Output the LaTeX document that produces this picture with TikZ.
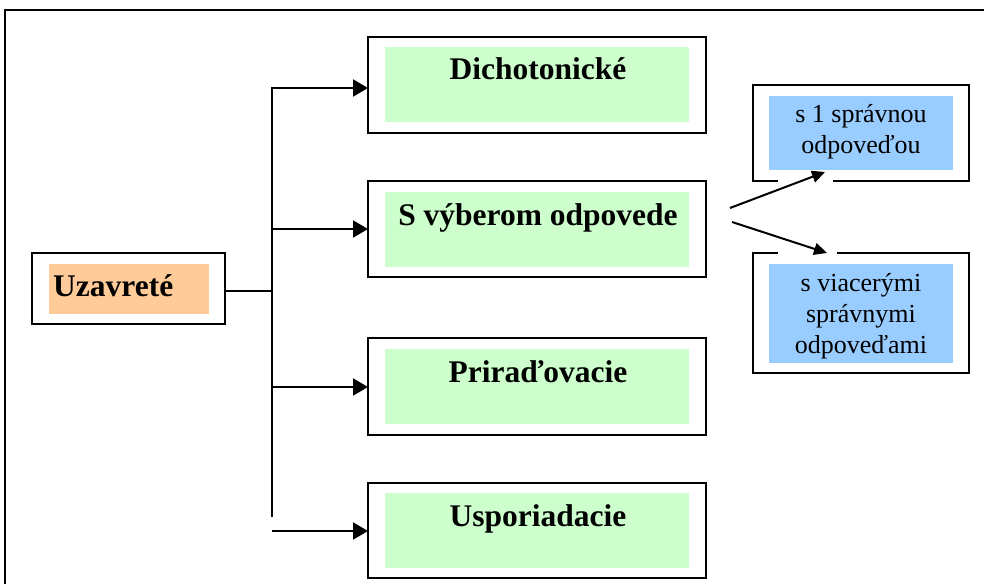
\documentclass[tikz,border=0pt]{standalone}
\usepackage{fontspec}
\setmainfont{Liberation Serif}
\usetikzlibrary{arrows.meta}
\definecolor{lgreen}{HTML}{CCFFCC}
\definecolor{lorange}{HTML}{FFCC99}
\definecolor{lblue}{HTML}{99CCFF}
\tikzset{
  outerbox/.style={draw=black, line width=2.5pt, fill=white},
  conn/.style={draw=black, line width=2pt},
  bigarrow/.style={conn, -{Triangle[length=15pt,width=17pt]}},
  smallarrow/.style={conn, -{Triangle[length=13pt,width=12pt]}},
  bigtext/.style={inner sep=0pt, font=\fontsize{31.5}{36}\selectfont\bfseries},
  smalltext/.style={inner sep=0pt, align=center, font=\fontsize{26}{31}\selectfont},
}
\begin{document}
\begin{tikzpicture}[x=1pt,y=-1pt]
\useasboundingbox (0,0) rectangle (984,583);
% outer frame
\draw[line width=2pt] (5,590) -- (5,10.5) -- (990,10.5);
% left box
\draw[outerbox] (32,253) rectangle (225,324);
\fill[lorange] (49,264) rectangle (209,314);
\node[bigtext, anchor=base west] (uz) at (53,296) {Uzavreté};
\coordinate (uzE) at (225,291);
% middle boxes
\draw[outerbox] (368,37) rectangle (706,133);
\fill[lgreen] (385,47) rectangle (689,122);
\node[bigtext, anchor=base] (dich) at (538,80) {Dichotonické};
\coordinate (dichW) at (368,88);

\draw[outerbox] (368,181) rectangle (706,277);
\fill[lgreen] (385,192) rectangle (689,267);
\node[bigtext, anchor=base] (svyb) at (538,225) {S výberom odpovede};
\coordinate (svybW) at (368,229);

\draw[outerbox] (368,338) rectangle (706,435);
\fill[lgreen] (385,349) rectangle (689,424);
\node[bigtext, anchor=base] (prir) at (538,382) {Priraďovacie};
\coordinate (prirW) at (368,387);

\draw[outerbox] (368,483) rectangle (706,578);
\fill[lgreen] (385,493) rectangle (689,568);
\node[bigtext, anchor=base] (uspo) at (538,526) {Usporiadacie};
\coordinate (uspoW) at (368,531);

% right boxes
\draw[outerbox] (753,85) rectangle (969,181);
\fill[lblue] (769,96) rectangle (953,170);
\node[smalltext, anchor=base] (r1) at (861,153) {s 1 správnou\\odpoveďou};

\draw[outerbox] (753,253) rectangle (969,373);
\fill[lblue] (769,264) rectangle (953,363);
\node[smalltext, anchor=base] (r2) at (861,353) {s viacerými\\správnymi\\odpoveďami};

% trunk and arrows
\coordinate (t1) at (272,88);
\coordinate (t2) at (272,229);
\coordinate (t3) at (272,387);
\coordinate (t4) at (272,531);
\coordinate (tend) at (272,517);
\coordinate (tmid) at (272,291);
\draw[conn] (uzE) -- (tmid);
\draw[bigarrow] (tend) -- (t1) -- (dichW);
\draw[bigarrow] (t2) -- (svybW);
\draw[bigarrow] (t3) -- (prirW);
\draw[bigarrow] (t4) -- (uspoW);

% white halos over borders near arrow tips
\fill[white] (778,178) rectangle (833,185);
\fill[white] (778,250) rectangle (837,257);
\coordinate (s1) at (730,208);
\coordinate (s2) at (732,222);
\coordinate (e1) at (825,172);
\coordinate (e2) at (827,253);
\draw[smallarrow] (s1) -- (e1);
\draw[smallarrow] (s2) -- (e2);
\end{tikzpicture}
\end{document}
